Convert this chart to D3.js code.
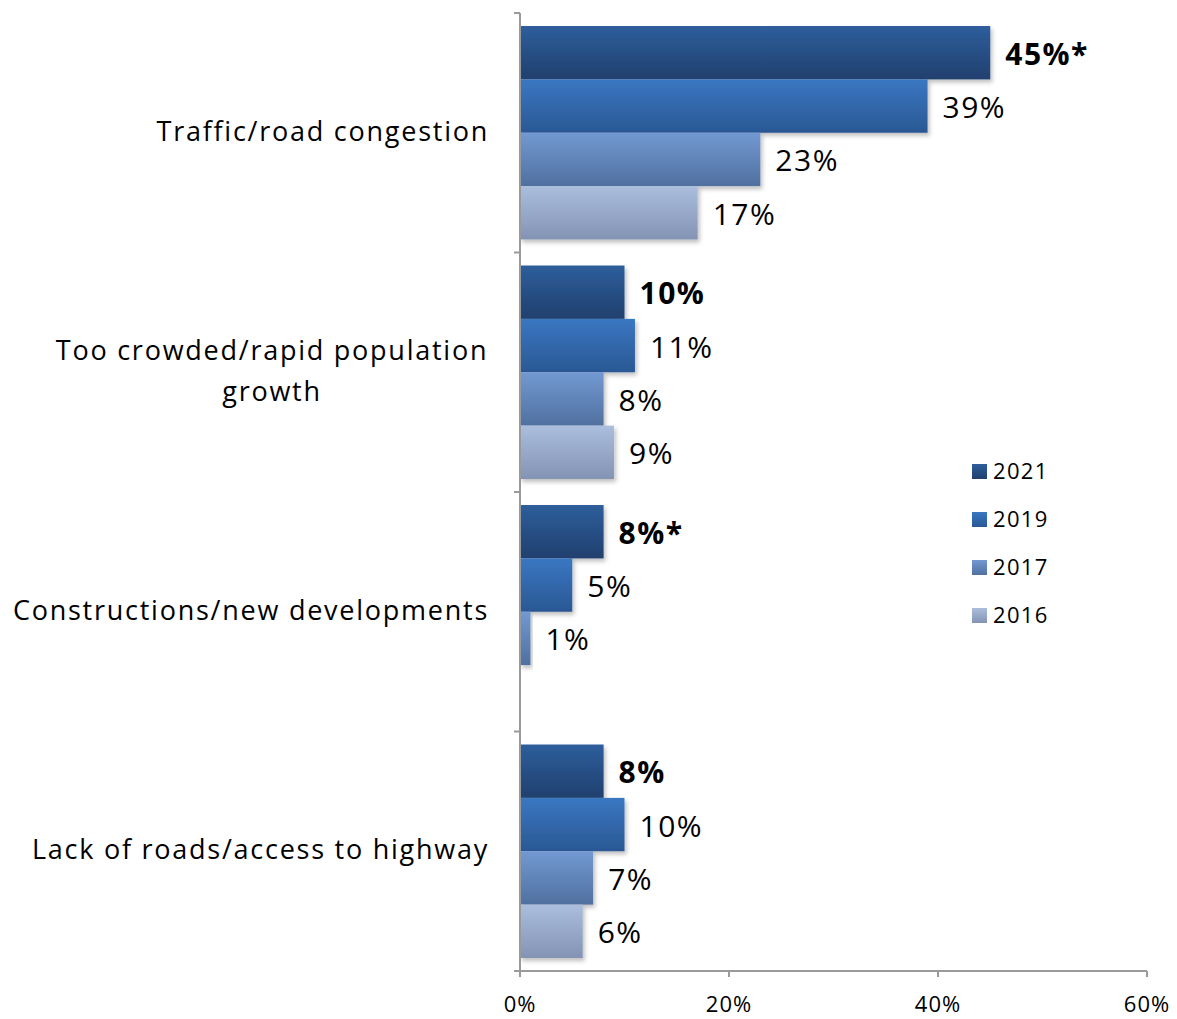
<!DOCTYPE html>
<html>
<head>
<meta charset="utf-8">
<script src="https://cdn.jsdelivr.net/npm/d3@7"></script>
<style>
 body { margin:0; background:#fff; }
 text { font-family: "Open Sans", Lato, sans-serif; fill:#000; }
</style>
</head>
<body>
<div id="chart"></div>
<script>
// chart data
const categories = ['Traffic/road congestion', 'Too crowded/rapid population growth', 'Constructions/new developments', 'Lack of roads/access to highway'];
const categoryLines = [['Traffic/road congestion'], ['Too crowded/rapid population', 'growth'], ['Constructions/new developments'], ['Lack of roads/access to highway']];
const years = ['2021', '2019', '2017', '2016'];
const values2021 = [45, 10, 8, 8];
const values2019 = [39, 11, 5, 10];
const values2017 = [23, 8, 1, 7];
const values2016 = [17, 9, null, 6];
const labels2021 = ['45%*', '10%', '8%*', '8%'];
const xTicks = [0, 20, 40, 60];

const seriesValues = [values2021, values2019, values2017, values2016];

// gradient colours for each year (top, bottom)
const barColor = {
  '2021': ['#2e5e9c', '#20406e'],
  '2019': ['#3a77c2', '#2a5894'],
  '2017': ['#7299d2', '#50709f'],
  '2016': ['#abbede', '#8393b3']
};

const width = 1177, height = 1019;
const margin = {top: 13, right: 30, bottom: 48, left: 520};
const visWidth = 1147 - margin.left;
const visHeight = 971 - margin.top;

const svg = d3.select('#chart').append('svg')
    .attr('width', width)
    .attr('height', height);

const defs = svg.append('defs');
years.forEach(y => {
  const g = defs.append('linearGradient')
      .attr('id', 'grad-' + y)
      .attr('x1', 0).attr('x2', 0).attr('y1', 0).attr('y2', 1);
  g.append('stop').attr('offset', '0%').attr('stop-color', barColor[y][0]);
  g.append('stop').attr('offset', '100%').attr('stop-color', barColor[y][1]);
});

const shadow = defs.append('filter')
    .attr('id', 'shadow')
    .attr('x', '-10%').attr('y', '-10%').attr('width', '130%').attr('height', '140%');
shadow.append('feDropShadow')
    .attr('dx', 2).attr('dy', 3).attr('stdDeviation', 2)
    .attr('flood-color', '#000').attr('flood-opacity', 0.25);

const container = svg.append('g')
    .attr('transform', `translate(${margin.left}, ${margin.top})`);

const xScale = d3.scaleLinear()
    .domain([0, 60])
    .range([0, visWidth]);

const yScale = d3.scaleBand()
    .domain(categories)
    .range([0, visHeight]);

const yInner = d3.scaleBand()
    .domain(years)
    .range([0, yScale.bandwidth()])
    .paddingOuter(0.244);

// bars
const groups = container.selectAll('.cat')
    .data(categories)
    .join('g')
    .attr('class', 'cat')
    .attr('transform', d => `translate(0,${yScale(d)})`);

groups.each(function(cat, ci) {
  const g = d3.select(this);
  const rows = years.map((y, si) => ({year: y, value: seriesValues[si][ci], si: si}))
      .filter(d => d.value !== null);

  g.selectAll('rect')
      .data(rows)
      .join('rect')
      .attr('x', 0)
      .attr('y', d => yInner(d.year))
      .attr('width', d => xScale(d.value))
      .attr('height', yInner.bandwidth())
      .attr('fill', d => `url(#grad-${d.year})`)
      .attr('filter', 'url(#shadow)');

  g.selectAll('text.val')
      .data(rows)
      .join('text')
      .attr('class', 'val')
      .attr('x', d => xScale(d.value) + 15)
      .attr('y', d => yInner(d.year) + yInner.bandwidth() / 2 + 12)
      .style('font-size', '30px')
      .style('letter-spacing', '1.5px')
      .style('font-weight', d => d.year === '2021' ? 'bold' : 'normal')
      .text(d => d.year === '2021' ? labels2021[ci] : d.value + '%');
});

// axes
const axisColor = '#9a9a9a';
container.append('line')
    .attr('x1', 0).attr('x2', 0)
    .attr('y1', 0).attr('y2', visHeight)
    .attr('stroke', axisColor).attr('stroke-width', 2);

container.append('line')
    .attr('x1', 0).attr('x2', visWidth)
    .attr('y1', visHeight).attr('y2', visHeight)
    .attr('stroke', axisColor).attr('stroke-width', 2);

// y tick marks at band boundaries
const bounds = categories.map(c => yScale(c)).concat([visHeight]);
container.selectAll('.ytick')
    .data(bounds)
    .join('line')
    .attr('class', 'ytick')
    .attr('x1', -6).attr('x2', 0)
    .attr('y1', d => d).attr('y2', d => d)
    .attr('stroke', axisColor).attr('stroke-width', 2);

// x ticks
container.selectAll('.xtick')
    .data(xTicks)
    .join('line')
    .attr('class', 'xtick')
    .attr('x1', d => xScale(d)).attr('x2', d => xScale(d))
    .attr('y1', visHeight).attr('y2', visHeight + 6)
    .attr('stroke', axisColor).attr('stroke-width', 2);

container.selectAll('.xlabel')
    .data(xTicks)
    .join('text')
    .attr('class', 'xlabel')
    .attr('x', d => xScale(d))
    .attr('y', visHeight + 41)
    .attr('text-anchor', 'middle')
    .style('font-size', '22px')
    .style('letter-spacing', '1px')
    .text(d => d + '%');

// category labels
groups.each(function(cat, ci) {
  const lines = categoryLines[ci];
  const lineH = 41;
  const cy = yScale.bandwidth() / 2;
  const t = d3.select(this).append('text')
      .style('font-size', '27px')
      .style('letter-spacing', '1.75px')
      .attr('text-anchor', lines.length > 1 ? 'middle' : 'end');
  const startY = cy - (lines.length - 1) * lineH / 2 + 8;
  lines.forEach((l, i) => {
    t.append('tspan')
        .attr('x', lines.length > 1 ? -248 : -31)
        .attr('y', startY + i * lineH)
        .text(l);
  });
});

// legend
const legend = svg.append('g')
    .attr('transform', 'translate(972,471)');

legend.selectAll('rect')
    .data(years)
    .join('rect')
    .attr('x', 0)
    .attr('y', (d, i) => i * 48 - 7)
    .attr('width', 15)
    .attr('height', 15)
    .attr('fill', d => `url(#grad-${d})`);

legend.selectAll('text')
    .data(years)
    .join('text')
    .attr('x', 21)
    .attr('y', (d, i) => i * 48 + 8)
    .style('font-size', '22px')
    .style('letter-spacing', '1.3px')
    .text(d => d);
</script>
</body>
</html>
